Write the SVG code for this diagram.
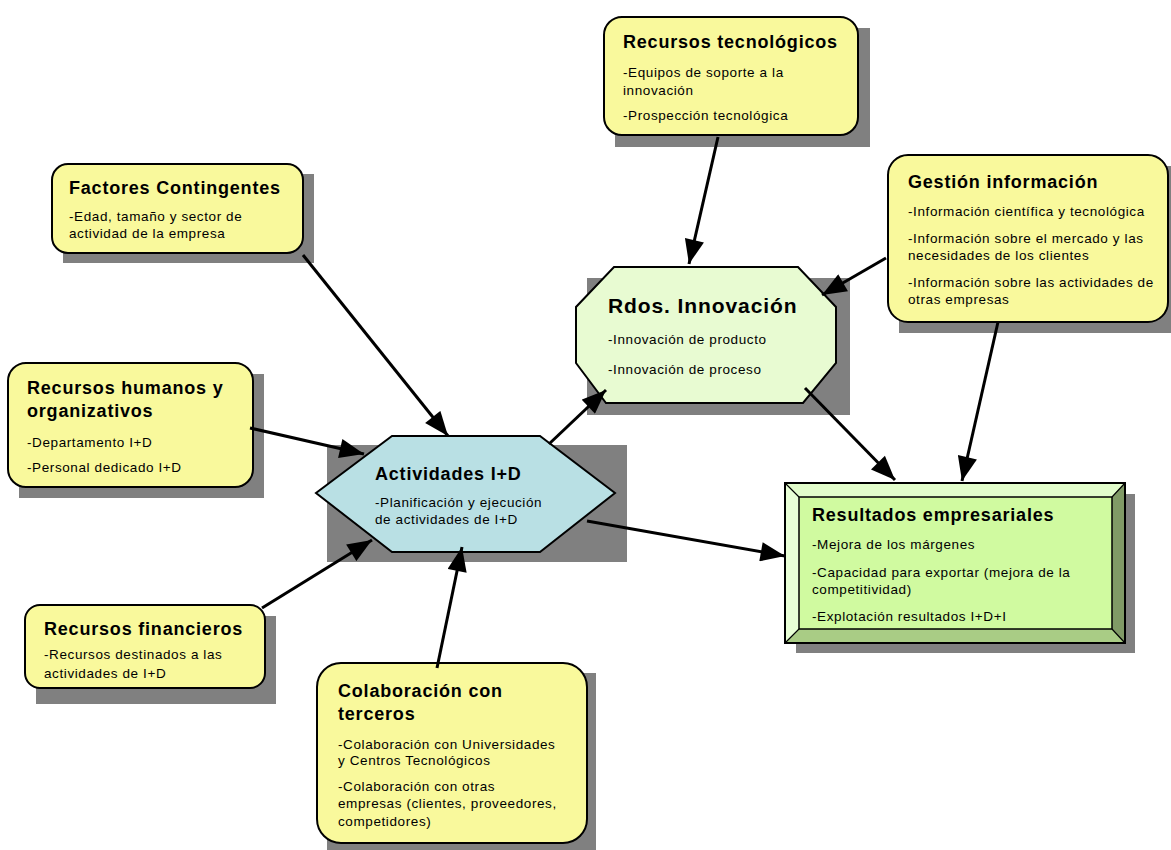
<svg xmlns="http://www.w3.org/2000/svg" width="1171" height="850" viewBox="0 0 1171 850">
  <style>
    .shadow { fill: #808080; }
    .note { fill: #F9F99C; stroke: #000; stroke-width: 2; }
    .title { font-family: "Liberation Sans", Arial, sans-serif; font-weight: bold; font-size: 18px; letter-spacing: 0.8px; fill: #000; }
    .big { font-size: 21px; letter-spacing: 0.9px; }
    .body { font-family: "Liberation Sans", Arial, sans-serif; font-size: 13.5px; letter-spacing: 0.6px; fill: #000; }
    .link { stroke: #000; stroke-width: 3; fill: none; marker-end: url(#arrow); }
  </style>
  <defs>
    <marker id="arrow" viewBox="0 0 10 8" refX="10" refY="4" markerWidth="8.5" markerHeight="6.5" orient="auto" markerUnits="strokeWidth">
      <path d="M0,0 L10,4 L0,8 Z" fill="#000"/>
    </marker>
  </defs>

  <rect width="1171" height="850" fill="#fff"/>

  <!-- Recursos tecnológicos -->
  <g id="recursos-tecnologicos">
    <rect class="shadow" x="615" y="28" width="255" height="119"/>
    <rect class="note" x="604" y="17" width="254" height="118" rx="18"/>
    <text class="title" x="623" y="48">Recursos tecnológicos</text>
    <text class="body" x="623" y="77">-Equipos de soporte a la</text>
    <text class="body" x="623" y="95">innovación</text>
    <text class="body" x="623" y="120">-Prospección tecnológica</text>
  </g>

  <!-- Factores Contingentes -->
  <g id="factores-contingentes">
    <rect class="shadow" x="63" y="174" width="251" height="89"/>
    <rect class="note" x="52" y="164" width="251" height="89" rx="16"/>
    <text class="title" x="69" y="194">Factores Contingentes</text>
    <text class="body" x="69" y="221">-Edad, tamaño y sector de</text>
    <text class="body" x="69" y="238">actividad de la empresa</text>
  </g>

  <!-- Gestión información -->
  <g id="gestion-informacion">
    <rect class="shadow" x="899" y="166" width="280" height="167"/>
    <rect class="note" x="888" y="155" width="280" height="167" rx="20"/>
    <text class="title" x="908" y="188">Gestión información</text>
    <text class="body" x="908" y="216">-Información científica y tecnológica</text>
    <text class="body" x="908" y="243">-Información sobre el mercado y las</text>
    <text class="body" x="908" y="260">necesidades de los clientes</text>
    <text class="body" x="908" y="287">-Información sobre las actividades de</text>
    <text class="body" x="908" y="304">otras empresas</text>
  </g>

  <!-- Recursos humanos y organizativos -->
  <g id="recursos-humanos">
    <rect class="shadow" x="19" y="374" width="245" height="124"/>
    <rect class="note" x="8" y="363" width="245" height="124" rx="18"/>
    <text class="title" x="27" y="394">Recursos humanos y</text>
    <text class="title" x="27" y="417">organizativos</text>
    <text class="body" x="27" y="447">-Departamento I+D</text>
    <text class="body" x="27" y="472">-Personal dedicado I+D</text>
  </g>

  <!-- Recursos financieros -->
  <g id="recursos-financieros">
    <rect class="shadow" x="36" y="616" width="240" height="88"/>
    <rect class="note" x="25" y="605" width="240" height="83" rx="15"/>
    <text class="title" x="44" y="635">Recursos financieros</text>
    <text class="body" x="44" y="659">-Recursos destinados a las</text>
    <text class="body" x="44" y="678">actividades de I+D</text>
  </g>

  <!-- Colaboración con terceros -->
  <g id="colaboracion-terceros">
    <rect class="shadow" x="327" y="673" width="269" height="180"/>
    <rect class="note" x="317" y="663" width="270" height="180" rx="24"/>
    <text class="title" x="338" y="697">Colaboración con</text>
    <text class="title" x="338" y="720">terceros</text>
    <text class="body" x="338" y="749">-Colaboración con Universidades</text>
    <text class="body" x="338" y="765">y Centros Tecnológicos</text>
    <text class="body" x="338" y="791">-Colaboración con otras</text>
    <text class="body" x="338" y="808">empresas (clientes, proveedores,</text>
    <text class="body" x="338" y="826">competidores)</text>
  </g>

  <!-- Rdos. Innovación -->
  <g id="rdos-innovacion">
    <rect class="shadow" x="587" y="278" width="263" height="137"/>
    <polygon points="614,267 798,267 836,307 836,363 803,403 606,403 576,363 576,307" fill="#E8FBD2" stroke="#000" stroke-width="2"/>
    <text class="title big" x="608" y="313">Rdos. Innovación</text>
    <text class="body" x="608" y="344">-Innovación de producto</text>
    <text class="body" x="608" y="374">-Innovación de proceso</text>
  </g>

  <!-- Actividades I+D -->
  <g id="actividades-id">
    <rect class="shadow" x="327" y="445" width="300" height="117"/>
    <polygon points="392,436 540,436 615,493 540,552 392,552 316,493" fill="#B9E0E4" stroke="#000" stroke-width="2"/>
    <text class="title" x="375" y="480">Actividades I+D</text>
    <text class="body" x="375" y="507">-Planificación y ejecución</text>
    <text class="body" x="375" y="524">de actividades de I+D</text>
  </g>

  <!-- Resultados empresariales -->
  <g id="resultados-empresariales">
    <rect class="shadow" x="796" y="494" width="339" height="159"/>
    <polygon points="785,483 1125,483 1112,497 799,497" fill="#E2FDCB"/>
    <polygon points="785,483 799,497 799,629 785,643" fill="#E8FFD6"/>
    <polygon points="1125,483 1125,643 1112,629 1112,497" fill="#809A66"/>
    <polygon points="785,643 799,629 1112,629 1125,643" fill="#A9CC85"/>
    <rect x="799" y="497" width="313" height="132" fill="#D0FAA0" stroke="#000" stroke-width="1.5"/>
    <rect x="785" y="483" width="340" height="160" fill="none" stroke="#000" stroke-width="2"/>
    <path d="M785,483 L799,497 M1125,483 L1112,497 M785,643 L799,629 M1125,643 L1112,629" stroke="#000" stroke-width="1.2"/>
    <text class="title" x="812" y="521">Resultados empresariales</text>
    <text class="body" x="812" y="549">-Mejora de los márgenes</text>
    <text class="body" x="812" y="577">-Capacidad para exportar (mejora de la</text>
    <text class="body" x="812" y="594">competitividad)</text>
    <text class="body" x="812" y="621">-Explotación resultados I+D+I</text>
  </g>

  <!-- Connectors -->
  <g id="connectors">
    <line class="link" x1="718" y1="137" x2="689" y2="264"/>
    <line class="link" x1="886" y1="258" x2="822" y2="295"/>
    <line class="link" x1="303" y1="255" x2="448" y2="436"/>
    <line class="link" x1="250" y1="428" x2="364" y2="454"/>
    <line class="link" x1="262" y1="608" x2="372" y2="540"/>
    <line class="link" x1="437" y1="668" x2="462" y2="547"/>
    <line class="link" x1="549" y1="444" x2="606" y2="390"/>
    <line class="link" x1="587" y1="521" x2="785" y2="556"/>
    <line class="link" x1="805" y1="388" x2="895" y2="480"/>
    <line class="link" x1="998" y1="322" x2="962" y2="481"/>
  </g>
</svg>
